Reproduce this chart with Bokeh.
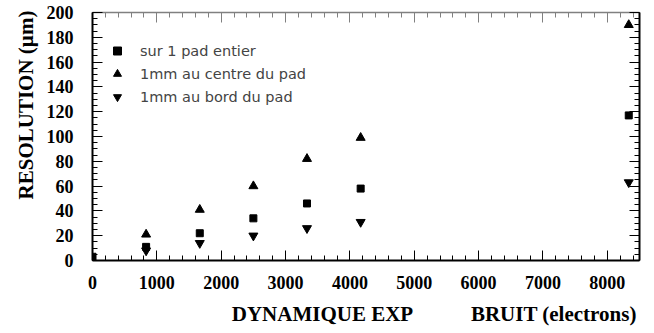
from bokeh.plotting import figure
from bokeh.models import (LinearAxis, SingleIntervalTicker, Range1d, Legend, LegendItem,
                          CustomJSTickFormatter)
from bokeh.embed import file_html
from bokeh.resources import INLINE

# ---- data ----
x_noise = [833, 1667, 2500, 3333, 4167, 8333]
x_square = [0, 833, 1667, 2500, 3333, 4167, 8333]
res_pad_entier = [3, 11, 22, 34, 46, 58, 117]
res_centre = [21, 41, 60, 82, 99, 190]
res_bord = [8, 14, 20, 26, 31, 63]
series_labels = ["sur 1 pad entier", "1mm au centre du pad", "1mm au bord du pad"]
xlabel_left = "DYNAMIQUE EXP"
xlabel_right = "BRUIT (electrons)"
ylabel = "RESOLUTION (µm)"

SERIF = "Liberation Serif"
NB = "\u00a0"

p = figure(width=654, height=333, output_backend="svg", toolbar_location=None,
           x_range=Range1d(0, 8500), y_range=Range1d(0, 200),
           min_border_left=92, min_border_right=15, min_border_top=12, min_border_bottom=73)
p.background_fill_color = "white"
p.border_fill_color = "white"
p.grid.visible = False
p.outline_line_color = None

def style(ax, labels=True, color="black", width=2):
    ax.major_tick_in = 10
    ax.major_tick_out = 0
    ax.minor_tick_in = 5
    ax.minor_tick_out = 0
    ax.major_tick_line_color = color
    ax.minor_tick_line_color = color
    ax.axis_line_color = color
    ax.axis_line_width = width
    if labels:
        ax.major_label_text_font = SERIF
        ax.major_label_text_font_style = "bold"
        ax.major_label_text_font_size = "18px"
        ax.major_label_text_color = "black"
        ax.axis_label_text_font = SERIF
        ax.axis_label_text_font_style = "bold"
        ax.axis_label_text_font_size = "21px"
        ax.axis_label_text_color = "black"
    else:
        ax.formatter = CustomJSTickFormatter(code="return ''")
        ax.major_label_standoff = 0

p.xaxis.ticker = SingleIntervalTicker(interval=1000, num_minor_ticks=5)
p.yaxis.ticker = SingleIntervalTicker(interval=20, num_minor_ticks=4)
style(p.xaxis[0])
style(p.yaxis[0])
p.xaxis.major_label_standoff = 15
p.yaxis.major_label_standoff = 19
p.xaxis.axis_label = NB * 26 + xlabel_left + NB * 11 + xlabel_right
p.xaxis.axis_label_standoff = 10
p.yaxis.axis_label = NB * 12 + ylabel
p.yaxis.axis_label_standoff = 6

top = LinearAxis(ticker=SingleIntervalTicker(interval=1000, num_minor_ticks=5))
right = LinearAxis(ticker=SingleIntervalTicker(interval=20, num_minor_ticks=4))
style(top, labels=False, color="#808080", width=1.5)
style(right, labels=False)
p.add_layout(top, "above")
p.add_layout(right, "right")

r1 = p.scatter(x_square, res_pad_entier, marker="square", size=7, color="black")
r2 = p.scatter(x_noise, res_centre, marker="triangle", size=9, color="black")
r3 = p.scatter(x_noise, res_bord, marker="inverted_triangle", size=9, color="black")

legend = Legend(items=[LegendItem(label=series_labels[0], renderers=[r1]),
                       LegendItem(label=series_labels[1], renderers=[r2]),
                       LegendItem(label=series_labels[2], renderers=[r3])],
                location=(15, 152), padding=0, spacing=0, margin=0,
                glyph_width=20, glyph_height=23, label_height=23, label_standoff=13,
                border_line_alpha=0, background_fill_alpha=0,
                label_text_font="DejaVu Sans", label_text_font_size="14.5px")
p.add_layout(legend, "center")

open("out.html", "w").write(file_html(p, INLINE))
